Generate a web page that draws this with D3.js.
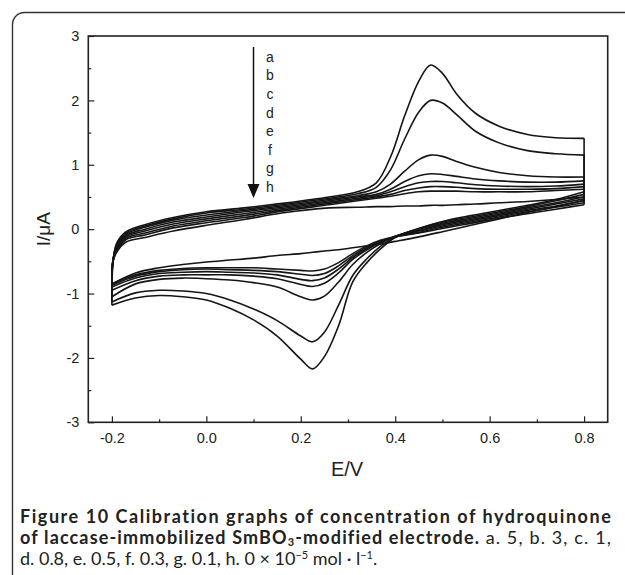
<!DOCTYPE html>
<html>
<head>
<meta charset="utf-8">
<script src="https://cdn.jsdelivr.net/npm/d3@7"></script>
<style>
  body { margin: 0; background: #fff; }
  svg { display: block; }
  .tick text { font-family: "Liberation Sans", Arial, sans-serif; font-size: 14.5px; fill: #222; }
  .caption { font-family: Lato, "Open Sans", sans-serif; fill: #222; white-space: pre; }
</style>
</head>
<body>
<div id="chart"></div>
<script>
// potentials for forward (upper) and reverse (lower) branches, V
const E_UP = [-0.2, -0.198, -0.19, -0.17, -0.13, -0.07, 0.0, 0.08, 0.16, 0.26, 0.32, 0.36, 0.39, 0.42, 0.45, 0.475, 0.5, 0.53, 0.57, 0.62, 0.68, 0.74, 0.8];
const E_DN = [0.8, 0.74, 0.68, 0.62, 0.56, 0.5, 0.45, 0.4, 0.37, 0.34, 0.31, 0.28, 0.25, 0.225, 0.2, 0.15, 0.1, 0.05, 0.0, -0.05, -0.1, -0.15, -0.2];

const labels = ["a", "b", "c", "d", "e", "f", "g", "h"];

// currents, uA
const upA = [-1.18, -0.55, -0.22, -0.04, 0.07, 0.18, 0.27, 0.33, 0.4, 0.5, 0.58, 0.72, 1.12, 1.76, 2.3, 2.55, 2.42, 2.1, 1.8, 1.6, 1.47, 1.42, 1.41];
const upB = [-1.13, -0.52, -0.24, -0.06, 0.05, 0.16, 0.25, 0.31, 0.38, 0.48, 0.55, 0.65, 0.92, 1.4, 1.82, 2.0, 1.96, 1.78, 1.52, 1.34, 1.22, 1.17, 1.15];
const upC = [-1.05, -0.5, -0.26, -0.08, 0.03, 0.14, 0.22, 0.29, 0.36, 0.46, 0.52, 0.58, 0.7, 0.9, 1.08, 1.15, 1.13, 1.05, 0.96, 0.88, 0.83, 0.81, 0.81];
const upD = [-0.95, -0.5, -0.28, -0.1, 0.0, 0.11, 0.19, 0.27, 0.34, 0.44, 0.5, 0.54, 0.62, 0.74, 0.83, 0.86, 0.85, 0.82, 0.78, 0.75, 0.73, 0.73, 0.75];
const upE = [-0.9, -0.5, -0.3, -0.12, -0.03, 0.08, 0.16, 0.24, 0.32, 0.42, 0.48, 0.52, 0.58, 0.66, 0.72, 0.74, 0.74, 0.72, 0.69, 0.67, 0.66, 0.67, 0.7];
const upF = [-0.87, -0.5, -0.32, -0.14, -0.06, 0.05, 0.13, 0.21, 0.3, 0.4, 0.46, 0.5, 0.54, 0.6, 0.64, 0.66, 0.66, 0.65, 0.63, 0.62, 0.62, 0.63, 0.66];
const upG = [-0.85, -0.5, -0.34, -0.16, -0.09, 0.02, 0.1, 0.18, 0.28, 0.38, 0.44, 0.48, 0.51, 0.55, 0.58, 0.59, 0.59, 0.59, 0.58, 0.58, 0.58, 0.6, 0.62];
const upH = [-0.85, -0.52, -0.36, -0.2, -0.13, -0.03, 0.06, 0.15, 0.25, 0.33, 0.34, 0.35, 0.35, 0.36, 0.36, 0.37, 0.37, 0.38, 0.39, 0.41, 0.43, 0.46, 0.5];

const dnA = [0.58, 0.46, 0.37, 0.29, 0.21, 0.12, 0.01, -0.13, -0.3, -0.52, -0.82, -1.5, -1.98, -2.17, -2.02, -1.66, -1.41, -1.23, -1.1, -1.05, -1.03, -1.07, -1.18];
const dnB = [0.54, 0.44, 0.35, 0.27, 0.19, 0.11, 0.01, -0.12, -0.26, -0.46, -0.72, -1.18, -1.6, -1.75, -1.66, -1.42, -1.24, -1.1, -1.0, -0.96, -0.95, -0.99, -1.13];
const dnC = [0.5, 0.41, 0.33, 0.25, 0.17, 0.09, 0.0, -0.11, -0.22, -0.36, -0.55, -0.82, -1.04, -1.1, -1.05, -0.9, -0.83, -0.79, -0.77, -0.76, -0.78, -0.85, -1.05];
const dnD = [0.47, 0.39, 0.31, 0.23, 0.15, 0.07, -0.02, -0.11, -0.2, -0.32, -0.47, -0.68, -0.84, -0.89, -0.86, -0.77, -0.73, -0.71, -0.71, -0.71, -0.73, -0.8, -0.95];
const dnE = [0.44, 0.36, 0.29, 0.21, 0.13, 0.05, -0.03, -0.12, -0.19, -0.3, -0.44, -0.62, -0.76, -0.8, -0.78, -0.71, -0.68, -0.67, -0.66, -0.67, -0.69, -0.76, -0.9];
const dnF = [0.41, 0.34, 0.27, 0.19, 0.11, 0.03, -0.05, -0.12, -0.18, -0.28, -0.41, -0.57, -0.69, -0.72, -0.7, -0.66, -0.64, -0.63, -0.62, -0.63, -0.66, -0.73, -0.87];
const dnG = [0.38, 0.31, 0.24, 0.17, 0.09, 0.01, -0.06, -0.12, -0.17, -0.26, -0.38, -0.52, -0.62, -0.65, -0.64, -0.62, -0.6, -0.6, -0.6, -0.61, -0.64, -0.71, -0.85];
const dnH = [0.45, 0.35, 0.26, 0.16, 0.06, -0.04, -0.12, -0.19, -0.23, -0.26, -0.29, -0.32, -0.34, -0.36, -0.38, -0.41, -0.45, -0.48, -0.51, -0.55, -0.6, -0.68, -0.85];

const upper = [upA, upB, upC, upD, upE, upF, upG, upH];
const lower = [dnA, dnB, dnC, dnD, dnE, dnF, dnG, dnH];

const xMajor = [-0.2, 0.0, 0.2, 0.4, 0.6, 0.8];
const xMinor = [-0.1, 0.1, 0.3, 0.5, 0.7];
const yMajor = [-3, -2, -1, 0, 1, 2, 3];
const yMinor = [-2.5, -1.5, -0.5, 0.5, 1.5, 2.5];

const W = 625, H = 575;
const svg = d3.select("#chart").append("svg")
  .attr("width", W).attr("height", H);

// figure frame (rounded box, open to the right and bottom)
svg.append("rect")
  .attr("x", 12.5).attr("y", 12.5)
  .attr("width", 700).attr("height", 700)
  .attr("rx", 12)
  .attr("fill", "none")
  .attr("stroke", "#333")
  .attr("stroke-width", 1.4);

const x = d3.scaleLinear().domain([-0.25, 0.85]).range([88.3, 607.7]);
const y = d3.scaleLinear().domain([-3, 3]).range([422.3, 36]);

const fmtX = d3.format(".1f");
const fmtY = d => d < 0 ? "-" + Math.abs(d) : String(d);

// axes, ticks pointing inward
const gx = svg.append("g").attr("transform", `translate(0,${y(-3)})`);
gx.call(d3.axisBottom(x).tickValues(xMajor).tickSize(-6).tickPadding(10)
  .tickFormat(d => (d < 0 ? "-" : "") + fmtX(Math.abs(d))));
gx.append("g").call(d3.axisBottom(x).tickValues(xMinor).tickSize(-3).tickFormat(""));

const gy = svg.append("g").attr("transform", `translate(${x(-0.25)},0)`);
gy.call(d3.axisLeft(y).tickValues(yMajor).tickSize(-6).tickPadding(9).tickFormat(fmtY));
gy.append("g").call(d3.axisLeft(y).tickValues(yMinor).tickSize(-3).tickFormat(""));

svg.selectAll(".domain").remove();
svg.selectAll(".tick line").attr("stroke", "#222").attr("stroke-width", 1.2);

svg.append("rect")
  .attr("x", x(-0.25)).attr("y", y(3))
  .attr("width", x(0.85) - x(-0.25)).attr("height", y(-3) - y(3))
  .attr("fill", "none").attr("stroke", "#222").attr("stroke-width", 1.6);

// voltammograms
const line = d3.line()
  .x(d => x(d[0])).y(d => y(d[1]))
  .curve(d3.curveCatmullRom.alpha(0.5));
const straight = d3.line().x(d => x(d[0])).y(d => y(d[1]));

const curves = svg.append("g")
  .attr("fill", "none").attr("stroke", "#151515")
  .attr("stroke-width", 1.6).attr("stroke-linejoin", "round");

labels.forEach((lab, i) => {
  const up = E_UP.map((e, j) => [e, upper[i][j]]);
  const dn = E_DN.map((e, j) => [e, lower[i][j]]);
  curves.append("path").attr("d", line(up));
  curves.append("path").attr("d", line(dn));
  curves.append("path").attr("d", straight([up[up.length - 1], dn[0]]));
});

// arrow with curve labels
const ly = d3.scalePoint().domain(labels).range([57, 187]);
svg.append("line")
  .attr("x1", 253.5).attr("x2", 253.5)
  .attr("y1", 47).attr("y2", 186)
  .attr("stroke", "#111").attr("stroke-width", 1.5);
svg.append("path")
  .attr("d", "M247.5,184 L259.5,184 L253.5,198 Z")
  .attr("fill", "#111");
svg.append("g").selectAll("text")
  .data(labels).join("text")
  .attr("x", 270).attr("y", d => ly(d))
  .attr("dy", "0.35em")
  .attr("text-anchor", "middle")
  .attr("font-family", "Liberation Sans, Arial, sans-serif")
  .attr("font-size", 14)
  .attr("fill", "#222")
  .text(d => d);

// axis titles
svg.append("text")
  .attr("transform", `translate(50,${y(0)}) rotate(-90)`)
  .attr("text-anchor", "middle")
  .attr("font-family", "Liberation Sans, Arial, sans-serif")
  .attr("font-size", 19)
  .attr("fill", "#222")
  .text("I/μA");
svg.append("text")
  .attr("x", 347).attr("y", 476)
  .attr("text-anchor", "middle")
  .attr("font-family", "Liberation Sans, Arial, sans-serif")
  .attr("font-size", 20)
  .attr("fill", "#222")
  .text("E/V");

// caption: each run is its own text; optional letter spacing to reach a width
function captionLine(yBase, runs, target) {
  const nodes = runs.map(r => svg.append("text").attr("class", "caption")
    .attr("y", yBase + (r.shift || 0))
    .attr("font-size", r.size || 17.5)
    .attr("font-weight", r.bold ? "bold" : "normal")
    .text(r.t));
  const widths = nodes.map(t => t.node().getComputedTextLength());
  const chars = d3.sum(runs, r => r.t.length);
  const ls = target ? Math.max(0, (target - d3.sum(widths)) / chars) : 0;
  let cx = 20;
  nodes.forEach((t, i) => {
    t.attr("x", cx).style("letter-spacing", ls + "px");
    cx += widths[i] + ls * runs[i].t.length;
  });
}
captionLine(523, [{ t: "Figure 10 Calibration graphs of concentration of hydroquinone", bold: true, size: 18 }], 593);
captionLine(544, [
  { t: "of laccase-immobilized SmBO", bold: true, size: 18 },
  { t: "3", bold: true, size: 11, shift: 1.5 },
  { t: "-modified electrode.", bold: true, size: 18 },
  { t: " a. 5, b. 3, c. 1,", size: 18 }
], 592);
captionLine(565, [
  { t: "d. 0.8, e. 0.5, f. 0.3, g. 0.1, h. 0 × 10", size: 18 },
  { t: "−5", size: 11, shift: -6 },
  { t: " mol · l", size: 18 },
  { t: "−1", size: 11, shift: -6 },
  { t: ".", size: 18 }
], 300);
</script>
</body>
</html>
